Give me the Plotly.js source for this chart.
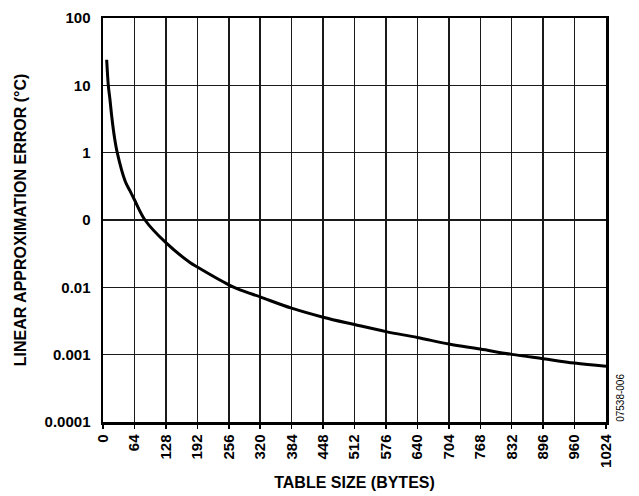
<!DOCTYPE html>
<html>
<head>
<meta charset="utf-8">
<script src="https://cdn.plot.ly/plotly-3.0.1.min.js"></script>
<style>html,body{margin:0;padding:0;background:#fff;}#chart{width:639px;height:496px;}</style>
</head>
<body>
<div id="chart"></div>
<script>
// Table size (bytes) and linear approximation error (°C)
var tableSize = [7.5, 10.8, 14.2, 17.7, 23, 29, 45, 55, 64, 85.5, 128, 177, 192, 256, 279, 320, 384, 448, 512, 576, 640, 704, 768, 832, 896, 960, 1024];
var approxError = [24, 10, 6.1, 3.5, 1.75, 1.0, 0.38, 0.27, 0.2, 0.1, 0.046, 0.0234, 0.02, 0.0109, 0.0092, 0.0072, 0.0049, 0.0036, 0.0028, 0.0022, 0.0018, 0.00144, 0.00121, 0.00101, 0.00087, 0.00075, 0.00067];

var xTickVals = [0, 64, 128, 192, 256, 320, 384, 448, 512, 576, 640, 704, 768, 832, 896, 960, 1024];
var xTickText = ["0", "64", "128", "192", "256", "320", "384", "448", "512", "576", "640", "704", "768", "832", "896", "960", "1024"];
var yTickVals = [0.0001, 0.001, 0.01, 0.1, 1, 10, 100];
var yTickText = ["0.0001", "0.001", "0.01", "0", "1", "10", "100"];

var font = "Liberation Sans, Arial, sans-serif";

var trace = {
  x: tableSize,
  y: approxError,
  type: "scatter",
  mode: "lines",
  line: {color: "#000", width: 3, shape: "spline", smoothing: 1},
  hoverinfo: "none"
};

var layout = {
  width: 639,
  height: 496,
  margin: {l: 103, r: 33, t: 18, b: 74},
  paper_bgcolor: "#fff",
  plot_bgcolor: "#fff",
  showlegend: false,
  font: {family: font, color: "#000"},
  xaxis: {
    range: [0, 1024],
    tickmode: "array",
    tickvals: xTickVals,
    ticktext: xTickText,
    tickangle: -90,
    ticks: "outside",
    ticklen: 4,
    tickwidth: 1.5,
    tickcolor: "#000",
    tickfont: {family: font, size: 15, color: "#000", weight: "bold"},
    showgrid: true,
    gridcolor: "#1a1a1a",
    gridwidth: 1.5,
    showline: true,
    linecolor: "#000",
    linewidth: 2.5,
    mirror: true,
    zeroline: false,
    title: {text: "TABLE SIZE (BYTES)", font: {family: font, size: 16, color: "#000", weight: "bold"}, standoff: 10}
  },
  yaxis: {
    type: "log",
    range: [-4, 2],
    tickmode: "array",
    tickvals: yTickVals,
    ticktext: yTickText,
    ticks: "",
    ticklabelstandoff: 7,
    tickfont: {family: font, size: 15, color: "#000", weight: "bold"},
    showgrid: true,
    gridcolor: "#1a1a1a",
    gridwidth: 1.5,
    showline: true,
    linecolor: "#000",
    linewidth: 2.5,
    mirror: true,
    zeroline: false,
    title: {text: "LINEAR APPROXIMATION ERROR (°C)", font: {family: font, size: 16, color: "#000", weight: "bold"}, standoff: 14}
  },
  annotations: [{
    text: "07538-006",
    xref: "paper", yref: "paper",
    x: 1.03, y: 0.06,
    xanchor: "center", yanchor: "middle",
    textangle: -90,
    showarrow: false,
    font: {family: font, size: 10, color: "#000"}
  }]
};

Plotly.newPlot("chart", [trace], layout, {staticPlot: true, displayModeBar: false});
</script>
</body>
</html>
